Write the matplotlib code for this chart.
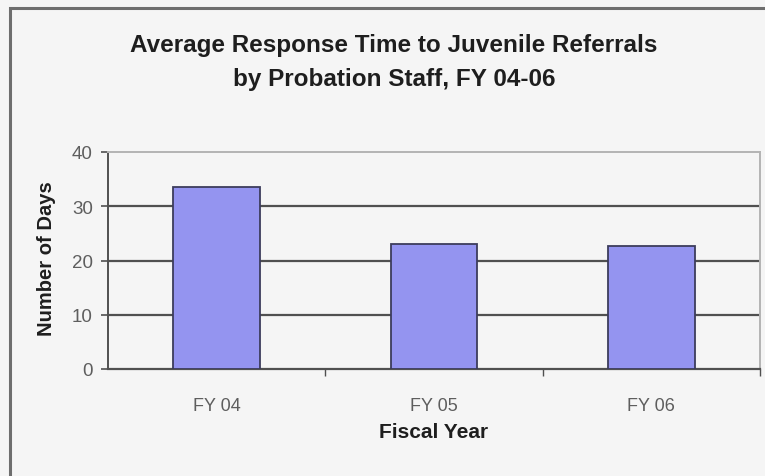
import matplotlib

matplotlib.use("Agg")
import matplotlib.pyplot as plt
from matplotlib.patches import Rectangle

# data
years = ["FY 04", "FY 05", "FY 06"]
days = [33.6, 23.0, 22.6]
y_ticks = [0, 10, 20, 30, 40]

BG = "#f5f5f5"
BAR = "#9494f0"
BAR_EDGE = "#3c3c5c"
GRID = "#505050"
TICK_TXT = "#5e5e5e"
LABEL_TXT = "#1e1e1e"

plt.rcParams["font.family"] = ["Liberation Sans", "DejaVu Sans"]

W, H = 765, 477
fig = plt.figure(figsize=(W / 100, H / 100), dpi=100, facecolor=BG)
ax = fig.add_axes([108 / W, 1 - 370 / H, 652 / W, 217 / H])
ax.set_facecolor(BG)

# outer chart frame (cut off at right and bottom like the source)
fig.patches.append(Rectangle((10 / W, -0.05), 1.2, 1 - 9 / H + 0.05,
                             transform=fig.transFigure, fill=False,
                             edgecolor="#6e6e6e", linewidth=2.2))

x = list(range(len(years)))
ax.bar(x, days, width=0.4, color=BAR, edgecolor=BAR_EDGE, linewidth=1.3, zorder=3)

ax.set_xlim(-0.5, len(years) - 0.5)
ax.set_ylim(0, 40)
ax.set_yticks(y_ticks)
ax.set_yticklabels([str(t) for t in y_ticks], fontsize=13.5, color=TICK_TXT)
ax.set_xticks(x)
ax.set_xticklabels(years, fontsize=13, color=TICK_TXT)
ax.tick_params(axis="x", length=0, pad=20)
ax.set_xticks([i + 0.5 for i in x], minor=True)
ax.tick_params(axis="x", which="minor", length=5, width=1, color=GRID)
ax.tick_params(axis="y", length=5, width=1.2, color=GRID, pad=6)

for t in y_ticks[1:-1]:
    ax.axhline(t, color=GRID, linewidth=1.6, zorder=1)

ax.spines["left"].set_color(GRID)
ax.spines["left"].set_linewidth(1.4)
ax.spines["bottom"].set_color(GRID)
ax.spines["bottom"].set_linewidth(1.6)
for side in ("top", "right"):
    ax.spines[side].set_color("#b4b4b4")
    ax.spines[side].set_linewidth(1.4)

ax.set_ylabel("Number of Days", fontsize=14.5, fontweight="bold", color=LABEL_TXT)
ax.yaxis.set_label_coords((47 - 108) / 652, 0.5 + (370 - 259 - 108.5) / 217)
ax.yaxis.label.set_va("center")
ax.set_xlabel("Fiscal Year", fontsize=15, fontweight="bold", color=LABEL_TXT)
ax.xaxis.set_label_coords(0.5, (370 - 433) / 217)
ax.xaxis.label.set_va("center")

title_lines = ["Average Response Time to Juvenile Referrals",
               "by Probation Staff, FY 04-06"]
for line, base in zip(title_lines, (52, 86)):
    fig.text(394 / W, 1 - base / H, line, ha="center", va="baseline",
             fontsize=17.5, fontweight="bold", color=LABEL_TXT)

fig.savefig("out.png", dpi=100, facecolor=BG)
